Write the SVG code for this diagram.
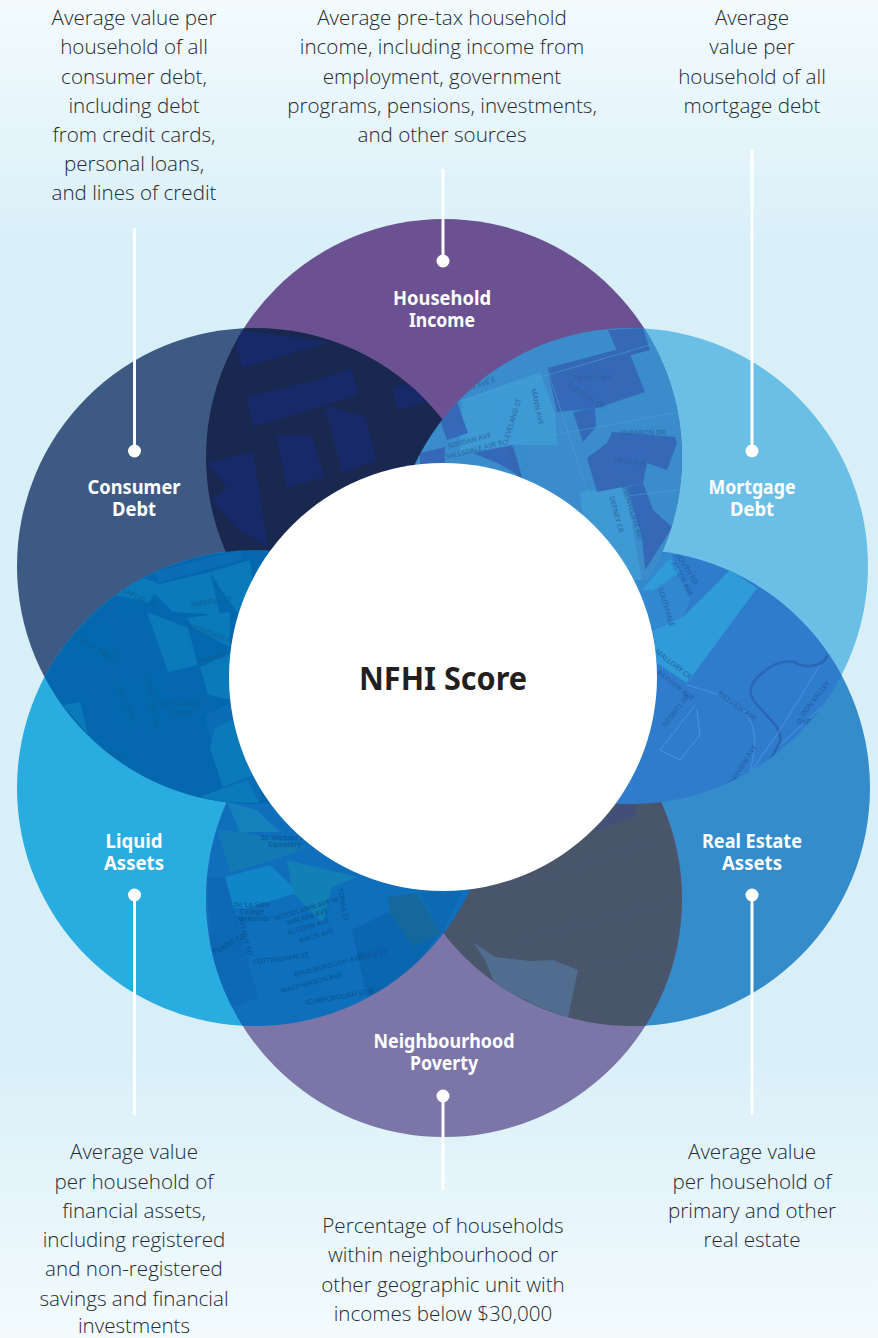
<svg xmlns="http://www.w3.org/2000/svg" width="878" height="1338" viewBox="0 0 878 1338">
<defs>
<linearGradient id="bg" x1="0" y1="0" x2="0" y2="1"><stop offset="0" stop-color="#f3fbfd"/><stop offset="0.19" stop-color="#d8eff8"/><stop offset="0.78" stop-color="#d8eff8"/><stop offset="1" stop-color="#f3fbfd"/></linearGradient>
<clipPath id="cH"><circle cx="444" cy="457" r="238"/></clipPath>
<clipPath id="cC"><circle cx="255" cy="566" r="238"/></clipPath>
<clipPath id="cM"><circle cx="630" cy="566" r="238"/></clipPath>
<clipPath id="cL"><circle cx="255" cy="788" r="238"/></clipPath>
<clipPath id="cR"><circle cx="632" cy="788" r="238"/></clipPath>
<clipPath id="cP"><circle cx="444" cy="899" r="238"/></clipPath>
</defs>
<style>
.d{font-family:"Open Sans","Noto Sans",sans-serif;font-size:20.6px;font-weight:300;fill:#232a33;text-anchor:middle}
.t{font-family:"Noto Sans","Open Sans",sans-serif;font-size:20px;font-weight:700;fill:#fff;text-anchor:middle}
.m{font-family:"Open Sans",sans-serif;font-size:7px;font-weight:600;text-anchor:middle;opacity:.75}
.ln{fill:none;stroke:#fff;stroke-width:3}
.dot{fill:#fff}
.s1{fill:none;stroke:#4aa0d8;stroke-width:1;opacity:.6}
</style>
<rect width="878" height="1338" fill="url(#bg)"/>
<g id="node-consumer-debt"><circle cx="255" cy="566" r="238" fill="#3d5a85"/></g>
<g id="node-mortgage-debt"><circle cx="630" cy="566" r="238" fill="#6abfe6"/></g>
<g id="node-liquid-assets"><circle cx="255" cy="788" r="238" fill="#29ace0"/></g>
<g id="node-real-estate-assets"><circle cx="632" cy="788" r="238" fill="#348ccb"/></g>
<g id="node-household-income"><circle cx="444" cy="457" r="238" fill="#6b5191"/></g>
<g id="node-neighbourhood-poverty"><circle cx="444" cy="899" r="238" fill="#7c75a8"/></g>

<g id="map-household-consumer" clip-path="url(#cH)"><g clip-path="url(#cC)">
<rect x="200" y="320" width="260" height="260" fill="#19284f"/>
<g fill="#18296a">
<polygon points="237,330 330,342 242,368 237,350"/>
<polygon points="247,397 317,380 352,368 358,395 325,405 253,427"/>
<polygon points="325,405 365,417 377,460 342,473"/>
<polygon points="392,387 417,383 427,402 398,410"/>
<polygon points="276,435 312,435 324,477 287,488"/>
<polygon points="207,463 228,458 253,452 268,547 235,527 212,500 227,487"/>
</g></g></g>

<g id="map-poverty-real-estate" clip-path="url(#cP)"><g clip-path="url(#cR)">
<rect x="390" y="780" width="310" height="260" fill="#48556b"/>
<polygon fill="#506d8f" points="473,942 495,957 530,961 553,960 578,970 568,1018 540,1007 505,990 493,980 485,960"/>
<polygon fill="#434f79" points="593,832 637,815 633,803 618,805"/>
<path fill="none" stroke="#4c5a72" stroke-width="1" d="M500,890 L660,840 M520,940 L680,900 M580,970 L680,950"/>
</g></g>

<g id="map-mortgage-real-estate" clip-path="url(#cM)"><g clip-path="url(#cR)">
<rect x="600" y="540" width="280" height="270" fill="#2f7ccc"/>
<polygon fill="#3389d0" points="620,560 670,552 680,572 690,600 683,617 655,628 630,630"/>
<polygon fill="#2f9bd8" points="653,630 683,617 730,570 757,588 687,683 657,663"/>
<polygon fill="#2f9bd8" points="642,590 670,558 680,572 653,590"/>
<path fill="none" stroke="#2a66b3" stroke-width="2.500" d="M827,655 C825,668 800,668 795,662 C780,660 770,665 757,678 C745,690 752,700 760,708 C772,722 782,728 780,742 L770,760"/>
<path fill="none" stroke="#4a93da" stroke-width="1" d="M687,685 C720,695 755,700 755,745 L750,775 M695,705 L660,750 L680,760 L700,735 L697,710 M820,665 L780,730 L745,780 M840,690 L780,745"/>
<g fill="#235a9c">
<text class="m" x="672" y="666" transform="rotate(38 672 666)" font-size="6">MALLORY CR</text>
<text class="m" x="674" y="687" transform="rotate(38 674 687)">BAYVIEW AVE</text>
<text class="m" x="736" y="708" transform="rotate(36 736 708)">BAYVIEW AVE</text>
<text class="m" x="745" y="766" transform="rotate(-58 745 766)">BAYVIEW AVE</text>
<text class="m" x="678" y="712" transform="rotate(-52 678 712)">NESBITT DR</text>
<text class="m" x="680" y="580" transform="rotate(62 680 580)">ASTOR AVE</text>
<text class="m" x="664" y="608" transform="rotate(72 664 608)">SOUTHVALE</text>
<text class="m" x="685" y="570" transform="rotate(58 685 570)">SOUTH RD</text>
<text class="m" x="817" y="700" transform="rotate(-52 817 700)">DON VALLEY</text>
<text class="m" x="804" y="724">DVP</text>
</g></g></g>

<g id="map-household-mortgage" clip-path="url(#cH)"><g clip-path="url(#cM)">
<rect x="410" y="320" width="280" height="260" fill="#3a8ccb"/>
<polygon fill="#3f9ad4" points="462,400 540,372 555,413 557,445 513,445 460,453"/>
<polygon fill="#3f9ad4" points="580,492 625,485 642,580 590,580"/>
<g fill="#3569b8">
<polygon points="547,368 627,347 645,392 597,408 557,412"/>
<polygon points="608,330 643,328 650,350 620,358"/>
<polygon points="573,412 595,408 596,427 583,442 578,427"/>
<polygon points="612,432 675,437 677,443 667,470 647,463 643,483 597,492 587,458 607,443"/>
<polygon points="627,487 643,483 653,510 672,527 660,547 645,570 642,537"/>
<polygon points="440,420 457,402 468,433 447,440"/>
<polygon points="473,453 512,445 522,477 497,463"/>
<polygon points="420,453 445,447 445,470 420,470"/>
</g>
<path class="s1" d="M445,405 L650,345 M500,445 L690,410 M547,368 L590,500 M590,500 L680,490"/>
<g fill="#2e5f9c">
<text class="m" x="593" y="380">Talbot Park</text>
<text class="m" x="585" y="398" transform="rotate(32 585 398)" font-size="6">FLEMING CR</text>
<text class="m" x="643" y="435">SHARRON DR</text>
<text class="m" x="630" y="464" transform="rotate(8 630 464)">FIELD AVE</text>
<text class="m" x="478" y="388" transform="rotate(-20 478 388)">VIEW AVE E</text>
<text class="m" x="514" y="423" transform="rotate(-72 514 423)">CLEVELAND ST</text>
<text class="m" x="535" y="407" transform="rotate(78 535 407)">MANN AVE</text>
<text class="m" x="515" y="470" transform="rotate(75 515 470)">CHESTON RD</text>
<text class="m" x="614" y="515" transform="rotate(75 614 515)">DEPNEY CR</text>
<text class="m" x="630" y="513" transform="rotate(72 630 513)">BRENTCLIFFE RD</text>
<text class="m" x="470" y="443" transform="rotate(-15 470 443)">SOUDAN AVE</text>
<text class="m" x="475" y="452" transform="rotate(-15 475 452)">HILLSDALE AVE E</text>
</g></g></g>

<g id="map-liquid-poverty" clip-path="url(#cL)"><g clip-path="url(#cP)">
<rect x="200" y="790" width="300" height="250" fill="#0f6fbd"/>
<polygon fill="#1086c8" points="225,877 270,865 293,887 297,893 247,908 233,908"/>
<polygon fill="#1279b4" points="217,830 243,832 307,847 283,857 230,873"/>
<polygon fill="#0d69b5" points="207,877 225,877 258,997 233,1008 213,993"/>
<polygon fill="#1280b4" points="287,860 357,877 332,887 323,923 293,893"/>
<polygon fill="#0b66b0" points="352,930 388,912 440,933 407,977 367,997"/>
<polygon fill="#14689e" points="387,897 417,893 442,933 413,947 390,913"/>
<polygon fill="#0c6ab3" points="420,892 463,890 442,933"/>
<polygon fill="#0d69b5" points="223,790 253,790 257,803 227,802"/>
<polygon fill="#1480bc" points="227,802 257,810 280,832 240,832"/>
<g fill="#0d4f8a">
<text class="m" x="282" y="840">St. Michael's</text>
<text class="m" x="285" y="847">Cemetery</text>
<text class="m" x="252" y="907">De La Salle</text>
<text class="m" x="252" y="914">College</text>
<text class="m" x="254" y="921">"Oaklands"</text>
<text class="m" x="307" y="911" transform="rotate(-17 307 911)">WOODLAWN AVE W</text>
<text class="m" x="308" y="919" transform="rotate(-17 308 919)">WALKER AVE</text>
<text class="m" x="309" y="929" transform="rotate(-17 309 929)">ALCORN AVE</text>
<text class="m" x="317" y="938" transform="rotate(-17 317 938)">BIRCH AVE</text>
<text class="m" x="281" y="961" transform="rotate(-8 281 961)">COTTINGHAM ST</text>
<text class="m" x="329" y="968" transform="rotate(-15 329 968)">MARLBOROUGH AVE</text>
<text class="m" x="312" y="985" transform="rotate(-15 312 985)">MACPHERSON AVE</text>
<text class="m" x="340" y="999" transform="rotate(-10 340 999)">SCARBOROUGH ST W</text>
<text class="m" x="243" y="937" transform="rotate(76 243 937)">AVENUE RD</text>
<text class="m" x="230" y="946" transform="rotate(-28 230 946)">PLAINS CR</text>
<text class="m" x="341" y="905" transform="rotate(80 341 905)">YONGE ST</text>
<text class="m" x="373" y="957" transform="rotate(-8 373 957)">PRICE ST</text>
</g></g></g>

<g id="map-consumer-liquid" clip-path="url(#cC)"><g clip-path="url(#cL)">
<rect x="30" y="540" width="240" height="280" fill="#0568ae"/>
<polygon fill="#0a6db5" points="155,572 240,550 242,560 158,583"/>
<polygon fill="#0a6db5" points="205,715 238,700 262,800 225,800"/>
<g fill="#0b7aba">
<polygon points="147,612 188,628 198,665 168,672"/>
<polygon points="147,587 210,572 220,615 173,612"/>
<polygon points="187,618 230,612 230,647 193,628"/>
<polygon points="200,667 230,653 233,700 208,695"/>
<polygon points="215,728 233,720 257,773 223,787 210,748"/>
<polygon points="200,797 247,780 260,803 223,802"/>
<polygon points="63,705 80,702 88,735"/>
<polygon points="115,595 140,577 158,583 150,603"/>
<polygon points="210,572 250,560 260,640 228,600"/>
</g>
<g fill="#0f5f94">
<text class="m" x="138" y="600" transform="rotate(28 138 600)">LAPLIN CR</text>
<text class="m" x="212" y="604" transform="rotate(-8 212 604)">IMPERIAL ST</text>
<text class="m" x="213" y="637" transform="rotate(20 213 637)">FROBISHER AVE</text>
<text class="m" x="214" y="660" transform="rotate(-12 214 660)">WILBARRY</text>
<text class="m" x="179" y="706" font-size="7.500">Upper Canada</text>
<text class="m" x="179" y="714" font-size="7.500">College</text>
<text class="m" x="150" y="703" transform="rotate(82 150 703)">FOREST HILL RD</text>
<text class="m" x="125" y="705" transform="rotate(65 125 705)">OLD FOREST</text>
<text class="m" x="85" y="645" transform="rotate(28 85 645)">ALCHOUSE RD</text>
<text class="m" x="110" y="658">BVD</text>
<text class="m" x="110" y="756" transform="rotate(20 110 756)">RUSSELL</text>
</g></g></g>

<circle id="node-nfhi-score-disc" cx="443" cy="677" r="214" fill="#fff"/>

<g id="connectors">
<line class="ln" x1="443" y1="169" x2="443" y2="261"/><circle class="dot" cx="443" cy="261" r="6.500"/>
<line class="ln" x1="134.500" y1="228" x2="134.500" y2="451"/><circle class="dot" cx="134.500" cy="451" r="6.500"/>
<line class="ln" x1="752" y1="150" x2="752" y2="451"/><circle class="dot" cx="752" cy="451" r="6.500"/>
<line class="ln" x1="134.500" y1="895" x2="134.500" y2="1115"/><circle class="dot" cx="134.500" cy="895" r="6.500"/>
<line class="ln" x1="752" y1="895" x2="752" y2="1115"/><circle class="dot" cx="752" cy="895" r="6.500"/>
<line class="ln" x1="443" y1="1096" x2="443" y2="1190"/><circle class="dot" cx="443" cy="1096" r="6.500"/>
</g>

<g id="node-nfhi-score"><text x="443" y="690" text-anchor="middle" font-family="Noto Sans,Open Sans,sans-serif" font-size="32" font-weight="700" fill="#231f20" textLength="168" lengthAdjust="spacingAndGlyphs">NFHI Score</text></g>

<g id="labels-household-income"><text class="t" x="442" y="305" textLength="98" lengthAdjust="spacingAndGlyphs">Household</text><text class="t" x="442" y="327" textLength="66" lengthAdjust="spacingAndGlyphs">Income</text>
<text class="d" x="442" y="25">Average pre-tax household</text><text class="d" x="442" y="54">income, including income from</text><text class="d" x="442" y="84">employment, government</text><text class="d" x="442" y="113">programs, pensions, investments,</text><text class="d" x="442" y="142">and other sources</text></g>
<g id="labels-consumer-debt"><text class="t" x="134" y="494" textLength="93" lengthAdjust="spacingAndGlyphs">Consumer</text><text class="t" x="134" y="516" textLength="44" lengthAdjust="spacingAndGlyphs">Debt</text>
<text class="d" x="134" y="25">Average value per</text><text class="d" x="134" y="54">household of all</text><text class="d" x="134" y="84">consumer debt,</text><text class="d" x="134" y="113">including debt</text><text class="d" x="134" y="142">from credit cards,</text><text class="d" x="134" y="171">personal loans,</text><text class="d" x="134" y="200">and lines of credit</text></g>
<g id="labels-mortgage-debt"><text class="t" x="752" y="494" textLength="87" lengthAdjust="spacingAndGlyphs">Mortgage</text><text class="t" x="752" y="516" textLength="44" lengthAdjust="spacingAndGlyphs">Debt</text>
<text class="d" x="752" y="25">Average</text><text class="d" x="752" y="54">value per</text><text class="d" x="752" y="84">household of all</text><text class="d" x="752" y="113">mortgage debt</text></g>
<g id="labels-liquid-assets"><text class="t" x="134" y="848" textLength="57" lengthAdjust="spacingAndGlyphs">Liquid</text><text class="t" x="134" y="870" textLength="60" lengthAdjust="spacingAndGlyphs">Assets</text>
<text class="d" x="134" y="1159">Average value</text><text class="d" x="134" y="1189">per household of</text><text class="d" x="134" y="1218">financial assets,</text><text class="d" x="134" y="1247">including registered</text><text class="d" x="134" y="1276">and non-registered</text><text class="d" x="134" y="1306">savings and financial</text><text class="d" x="134" y="1333">investments</text></g>
<g id="labels-real-estate-assets"><text class="t" x="752" y="848" textLength="100" lengthAdjust="spacingAndGlyphs">Real Estate</text><text class="t" x="752" y="870" textLength="60" lengthAdjust="spacingAndGlyphs">Assets</text>
<text class="d" x="752" y="1159">Average value</text><text class="d" x="752" y="1189">per household of</text><text class="d" x="752" y="1218">primary and other</text><text class="d" x="752" y="1247">real estate</text></g>
<g id="labels-neighbourhood-poverty"><text class="t" x="444" y="1048" textLength="141" lengthAdjust="spacingAndGlyphs">Neighbourhood</text><text class="t" x="444" y="1070" textLength="68" lengthAdjust="spacingAndGlyphs">Poverty</text>
<text class="d" x="443" y="1233">Percentage of households</text><text class="d" x="443" y="1262">within neighbourhood or</text><text class="d" x="443" y="1292">other geographic unit with</text><text class="d" x="443" y="1321">incomes below $30,000</text></g>
</svg>
